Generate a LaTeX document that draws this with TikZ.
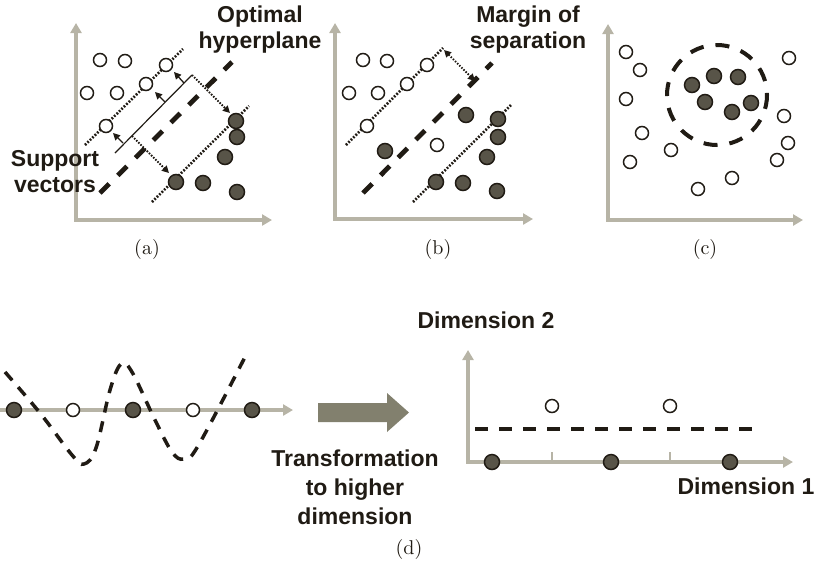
\documentclass[tikz,border=0pt]{standalone}
\usepackage{fontspec}
\newfontfamily\lblfont{Liberation Sans}
\newfontfamily\capfont{lmroman10-regular.otf}
\usetikzlibrary{arrows.meta}
\definecolor{ink}{RGB}{32,27,20}
\definecolor{axisgray}{RGB}{183,180,166}
\definecolor{dotgray}{RGB}{88,84,72}
\definecolor{arrowgray}{RGB}{130,128,110}

\begin{document}
\begin{tikzpicture}[x=1pt, y=-1pt,
  axes/.style={draw=axisgray, line width=3.8pt,
               {Triangle[length=10pt,width=11pt]}-{Triangle[length=10pt,width=11pt]}},
  axis1/.style={draw=axisgray, line width=3.8pt, -{Triangle[length=10pt,width=11pt]}},
  opn/.style={circle, draw=ink, line width=1.5pt, fill=white,
              minimum size=13pt, inner sep=0pt},
  fil/.style={circle, draw=ink, line width=1.5pt, fill=dotgray,
              minimum size=15pt, inner sep=0pt},
  hyp/.style={draw=ink, line width=4.8pt, dash pattern=on 13pt off 12pt},
  svline/.style={draw=ink, line width=2.6pt, dash pattern=on 1.8pt off 1.6pt},
  thinarr/.style={draw=ink, line width=1.3pt, -{Triangle[length=7pt,width=7pt]}},
  dotarr/.style={draw=ink, line width=1.8pt, dash pattern=on 1.5pt off 1.5pt,
                 -{Triangle[length=7pt,width=7pt]}},
  lbl/.style={font=\lblfont\fontsize{23}{26}\selectfont\bfseries, text=ink, align=center},
  captxt/.style={font=\capfont\fontsize{20}{22}\selectfont, text=ink}]
\useasboundingbox (0,0) rectangle (818,566);
% --- (a) optimal hyperplane ---
\draw[axes] (76,23) |- (272,220);
\coordinate (au1) at (85,145);  \coordinate (au2) at (183,49);
\coordinate (al1) at (152,202); \coordinate (al2) at (249,106);
\coordinate (ah1) at (100,193); \coordinate (ah2) at (232,62);
\coordinate (at1) at (115,153); \coordinate (at2) at (192,75);
\draw[svline] (au1) -- (au2);
\draw[svline] (al1) -- (al2);
\draw[hyp] (ah1) -- (ah2);
\draw[ink, line width=1.2pt] (at1) -- (at2);
\draw[thinarr] (123,143) -- (113,133);
\draw[thinarr] (165,102) -- (155,92);
\draw[thinarr] (184,83) -- (174,72);
\draw[dotarr] (at2) -- (230,113);
\draw[dotarr] (132,136) -- (169,173);
\foreach \p [count=\i] in {(100,60),(125,61),(87,93),(117,93),(106,126),(146,84),(166,65)}
  \node[opn] (ao\i) at \p {};
\foreach \p [count=\i] in {(236,121),(237,137),(225,157),(176,182),(203,183),(237,192)}
  \node[fil] (af\i) at \p {};
\node[lbl] (hyplbl) at (260,30) {Optimal\\hyperplane};
\node[lbl] (svlbl) at (55,172) {Support\\vectors};
\node[captxt] (capa) at (147,249) {(a)};
% --- (b) margin of separation ---
\draw[axes] (335,23) |- (533,219);
\coordinate (bu1) at (346,145); \coordinate (bu2) at (443,48);
\coordinate (bl1) at (413,202); \coordinate (bl2) at (511,105);
\coordinate (bh1) at (363,193); \coordinate (bh2) at (492,63);
\draw[svline] (bu1) -- (bu2);
\draw[svline] (bl1) -- (bl2);
\draw[hyp] (bh1) -- (bh2);
\draw[dotarr, {Triangle[length=7pt,width=7pt]}-{Triangle[length=7pt,width=7pt]}]
  (444,50) -- (475,81);
\foreach \p [count=\i] in {(363,60),(387,61),(349,93),(378,93),(367,126),(407,84),(427,65),(437,145)}
  \node[opn] (bo\i) at \p {};
\foreach \p [count=\i] in {(466,115),(385,151),(498,119),(498,137),(487,157),(436,182),(463,183),(497,191)}
  \node[fil] (bf\i) at \p {};
\node[lbl] (marglbl) at (528,30) {Margin of\\separation};
\node[captxt] (capb) at (438,249) {(b)};
% --- (c) non-linear boundary ---
\draw[axes] (608,24) |- (803,220);
\draw[ink, line width=4pt, dash pattern=on 14pt off 12pt] (717,95) circle[radius=50];
\foreach \p [count=\i] in {(626,52),(640,70),(626,99),(642,133),(630,162),(671,150),
                           (698,189),(732,178),(789,58),(784,116),(788,143),(777,160)}
  \node[opn] (co\i) at \p {};
\foreach \p [count=\i] in {(692,85),(714,76),(738,77),(705,102),(732,112),(751,103)}
  \node[fil] (cf\i) at \p {};
\node[captxt] (capc) at (705,249) {(c)};
% --- (d) mapping to a higher dimension ---
\draw[axis1] (0,410) -- (293,410);
\draw[ink, line width=3.5pt, dash pattern=on 11pt off 9pt]
  plot[smooth, tension=0.6] coordinates {(5,372) (40,413) (72,455) (84,464) (96,448)
    (110,390) (121,364) (132,372) (155,420) (172,452) (184,459) (198,446) (245,357)};
\foreach \x/\s [count=\i] in {14/fil,73/opn,133/fil,193/opn,252/fil}
  \node[\s] (d\i) at (\x,410) {};
\fill[arrowgray] (318,403) -- (387,403) -- (387,393) -- (409,412.5)
  -- (387,432) -- (387,422) -- (318,422) -- cycle;
\node[lbl, font=\lblfont\fontsize{23}{29}\selectfont\bfseries] (trlbl) at (355,487)
  {Transformation\\to higher\\dimension};
\draw[axes] (468,350) |- (793,462);
\foreach \x in {552,670}
  \draw[axisgray, line width=2.5pt] (\x,462) -- (\x,452);
\coordinate (dh1) at (475,429); \coordinate (dh2) at (757,429);
\draw[ink, line width=4pt, dash pattern=on 13pt off 11pt] (dh1) -- (dh2);
\foreach \x [count=\i] in {492,611,730}
  \node[fil] (e\i) at (\x,462) {};
\foreach \x [count=\i] in {552,670}
  \node[opn] (g\i) at (\x,406) {};
\node[lbl] (dim2) at (486,320) {Dimension 2};
\node[lbl] (dim1) at (746,486) {Dimension 1};
\node[captxt] (capd) at (409,549) {(d)};
\end{tikzpicture}
\end{document}
